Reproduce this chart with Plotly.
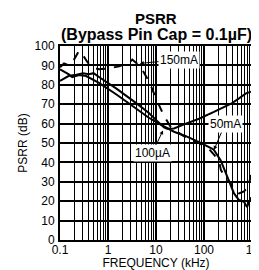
import numpy as np
import plotly.graph_objects as go

# Data (frequency in kHz, PSRR in dB)
freq_150mA = [0.1, 0.121, 0.154, 0.196, 0.249, 0.287, 0.365, 0.465, 0.65, 1.05, 1.7, 2.75, 3.2, 4.0, 5.1,
              7.1, 10.4, 14.7, 20.5, 38, 78, 126, 205, 225, 275, 360, 422, 536, 681, 787, 866, 953]
psrr_150mA = [89, 91, 90, 93, 97.5, 96, 92, 89, 88, 88.5, 89.5, 91.5, 93, 91, 88,
              82, 72, 64, 58, 53.5, 50, 47, 41, 36, 32.6, 29.3, 25, 24, 25, 26.8, 29, 33.5]

freq_50mA = [0.1, 0.12, 0.15, 0.18, 0.25, 0.35, 0.5, 0.65, 1.5, 4.4, 7.1, 11.5, 17, 23.7, 42, 79, 150, 161,
             223, 283, 360, 422, 536, 681, 787, 866, 953]
psrr_50mA = [88, 87, 85.5, 84, 85, 84.5, 82.5, 81, 75, 66.5, 63, 60, 57.8, 55.8, 53.5, 50.5, 47, 46.4,
             41, 34.5, 29, 24, 20.6, 19.7, 17, 19.7, 22]

freq_100uA = [0.1, 0.12, 0.15, 0.2, 0.3, 0.4, 0.5, 0.65, 1.5, 4.4, 7.1, 11.5, 14.7, 17, 23.7, 42, 79,
              161, 385, 536, 750, 953]
psrr_100uA = [82, 83, 84.5, 85, 86, 85.5, 86, 84, 78, 69.5, 65.5, 60.5, 58, 57.3, 57.5, 60, 62.5,
              66, 70.6, 73, 75.6, 76.4]

x_tickvals = [0.1, 1, 10, 100, 1000]
x_ticktext = ["0.1", "1", "10", "100", "1k"]
y_tickvals = [0, 10, 20, 30, 40, 50, 60, 70, 80, 90, 100]
minor_tickvals = [m * 10.0 ** d for d in range(-1, 3) for m in range(2, 10)]

# Label annotations: text, label position (kHz, dB), arrow tip (kHz, dB)
labels = ["150mA", "50mA", "100µA"]
label_f = [30, 274, 8.4]
label_db = [93, 59.8, 44.8]
tip_f = [4.6, 161, 14]
tip_db = [91, 46.4, 56.5]

FONT = "Arial, Liberation Sans, sans-serif"

fig = go.Figure()
fig.add_trace(go.Scatter(x=freq_100uA, y=psrr_100uA, mode="lines",
                         line=dict(color="black", width=2)))
fig.add_trace(go.Scatter(x=freq_50mA, y=psrr_50mA, mode="lines",
                         line=dict(color="black", width=2)))
fig.add_trace(go.Scatter(x=freq_150mA, y=psrr_150mA, mode="lines",
                         line=dict(color="black", width=2, dash="dash")))

for t, lf, ld, tf, td in zip(labels, label_f, label_db, tip_f, tip_db):
    fig.add_annotation(x=np.log10(tf), y=td, ax=np.log10(lf), ay=ld,
                       xref="x", yref="y", axref="x", ayref="y",
                       text="", showarrow=True, arrowhead=2, arrowsize=0.8,
                       arrowwidth=1, arrowcolor="black")
    fig.add_annotation(x=np.log10(lf), y=ld, xref="x", yref="y", text=t,
                       showarrow=False, bgcolor="white",
                       font=dict(family=FONT, size=12, color="black"), borderpad=1)

# Title lines
fig.add_annotation(text="<b>PSRR</b>", xref="paper", yref="paper", x=0.5, y=1.0,
                   yshift=28, showarrow=False, xanchor="center", yanchor="middle",
                   font=dict(family=FONT, size=15, color="black"))
fig.add_annotation(text="<b>(Bypass Pin Cap = 0.1µF)</b>", xref="paper", yref="paper",
                   x=0.5, y=1.0, yshift=12, showarrow=False, xanchor="center",
                   yanchor="middle", font=dict(family=FONT, size=16, color="black"))

fig.update_layout(
    width=251, height=262,
    margin=dict(l=52, r=7, t=38, b=30, autoexpand=False),
    paper_bgcolor="white", plot_bgcolor="white",
    showlegend=False,
    font=dict(family=FONT, size=12, color="black"),
)
fig.update_xaxes(type="log", range=[-1, 3], tickmode="array", tickvals=x_tickvals,
                 ticktext=x_ticktext, automargin=False, ticklabeloverflow="allow",
                 showgrid=True, gridcolor="black", gridwidth=2,
                 minor=dict(showgrid=True, gridcolor="black", gridwidth=1,
                            tickmode="array", tickvals=minor_tickvals, ticks=""),
                 showline=True, linecolor="black", linewidth=2, mirror=True,
                 ticks="", ticklen=0, ticklabelstandoff=-2,
                 title=dict(text="FREQUENCY (kHz)", standoff=1,
                            font=dict(family=FONT, size=12)),
                 tickfont=dict(family=FONT, size=12))
fig.update_yaxes(range=[0, 100], tickvals=y_tickvals, automargin=False,
                 ticklabeloverflow="allow",
                 showgrid=True, gridcolor="black", gridwidth=2,
                 showline=True, linecolor="black", linewidth=2, mirror=True,
                 ticks="", zeroline=False, ticklabelstandoff=1,
                 title=dict(text="PSRR (dB)", standoff=4,
                            font=dict(family=FONT, size=12)),
                 tickfont=dict(family=FONT, size=12))

fig.write_html("out.html")
